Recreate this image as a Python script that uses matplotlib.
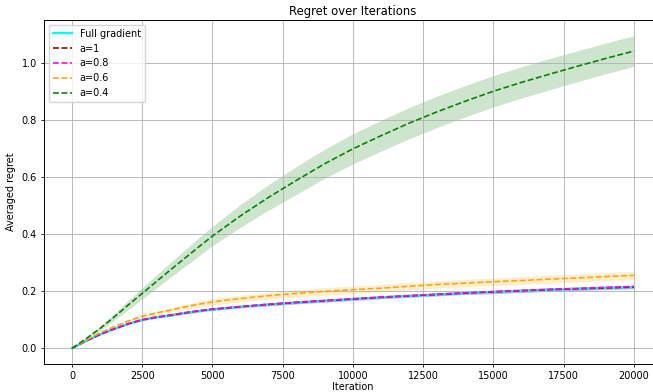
import matplotlib

matplotlib.use("Agg")
import matplotlib.pyplot as plt
import numpy as np

iterations = [0, 500, 1000, 1500, 2000, 2500, 3000, 3500, 4000, 4500, 5000,
              6000, 7000, 8000, 9000, 10000, 11000, 12000, 13000, 14000, 15000,
              16000, 17000, 18000, 19000, 20000]

full_gradient = [0.0, 0.026, 0.049, 0.068, 0.086, 0.100, 0.109, 0.116, 0.124, 0.131, 0.137,
                 0.146, 0.154, 0.161, 0.167, 0.173, 0.179, 0.184, 0.189, 0.194, 0.198,
                 0.202, 0.206, 0.209, 0.212, 0.215]
a_1 = [0.0, 0.026, 0.049, 0.068, 0.086, 0.100, 0.109, 0.116, 0.124, 0.131, 0.137,
       0.146, 0.154, 0.161, 0.167, 0.173, 0.179, 0.184, 0.189, 0.194, 0.198,
       0.202, 0.206, 0.209, 0.212, 0.215]
a_08 = [0.0, 0.026, 0.050, 0.069, 0.087, 0.101, 0.110, 0.117, 0.125, 0.132, 0.138,
        0.147, 0.155, 0.162, 0.168, 0.174, 0.180, 0.185, 0.190, 0.195, 0.199,
        0.203, 0.207, 0.210, 0.214, 0.217]
a_06 = [0.0, 0.028, 0.055, 0.076, 0.096, 0.113, 0.124, 0.134, 0.145, 0.155, 0.163,
        0.175, 0.185, 0.193, 0.200, 0.206, 0.211, 0.218, 0.224, 0.229, 0.234,
        0.238, 0.243, 0.247, 0.252, 0.256]
a_04 = [0.0, 0.034, 0.070, 0.110, 0.152, 0.193, 0.234, 0.275, 0.315, 0.355, 0.394,
        0.465, 0.530, 0.590, 0.648, 0.700, 0.746, 0.790, 0.830, 0.867, 0.902,
        0.933, 0.962, 0.990, 1.017, 1.043]

# half widths of the shaded bands
band_small = [0.0, 0.001, 0.002, 0.002, 0.003, 0.003, 0.003, 0.004, 0.004, 0.004, 0.004,
              0.004, 0.005, 0.005, 0.005, 0.005, 0.005, 0.005, 0.005, 0.005, 0.006,
              0.006, 0.006, 0.006, 0.006, 0.006]
band_06 = [0.0, 0.002, 0.003, 0.004, 0.005, 0.006, 0.007, 0.008, 0.009, 0.010, 0.011,
           0.011, 0.012, 0.012, 0.013, 0.013, 0.013, 0.013, 0.013, 0.013, 0.013,
           0.014, 0.014, 0.014, 0.014, 0.014]
band_04 = [0.0, 0.004, 0.008, 0.012, 0.016, 0.020, 0.023, 0.026, 0.029, 0.032, 0.034,
           0.040, 0.045, 0.049, 0.051, 0.053, 0.054, 0.055, 0.055, 0.055, 0.055,
           0.055, 0.055, 0.054, 0.054, 0.054]

SERIES = [
    ("Full gradient", full_gradient, band_small, "cyan", "-", 1.7),
    ("a=1", a_1, band_small, "darkred", "--", 1.15),
    ("a=0.8", a_08, band_small, "magenta", "--", 1.15),
    ("a=0.6", a_06, band_06, "orange", "--", 1.15),
    ("a=0.4", a_04, band_04, "green", "--", 1.15),
]


def main() -> None:
    fig = plt.figure(figsize=(6.53, 3.92), dpi=100)
    ax = fig.add_axes([0.0672, 0.0714, 0.9466, 0.8776])

    x = np.array(iterations)
    for label, values, band, color, style, lw in SERIES:
        y = np.array(values)
        b = np.array(band)
        ax.plot(x, y, linestyle=style, color=color, linewidth=lw, label=label)
        ax.fill_between(x, y - b, y + b, color=color, alpha=0.2, linewidth=0)

    ax.set_title("Regret over Iterations", fontsize=8.4, pad=3.5)
    ax.set_xlabel("Iteration", fontsize=7, labelpad=0.5)
    ax.set_ylabel("Averaged regret", fontsize=7)
    ax.tick_params(labelsize=7, width=0.6, length=2.5, pad=2.5)
    ax.grid(True, linewidth=0.6)
    for spine in ax.spines.values():
        spine.set_linewidth(0.7)
    ax.legend(loc="upper left", fontsize=7)

    fig.savefig("out.png", dpi=100)


if __name__ == "__main__":
    main()
